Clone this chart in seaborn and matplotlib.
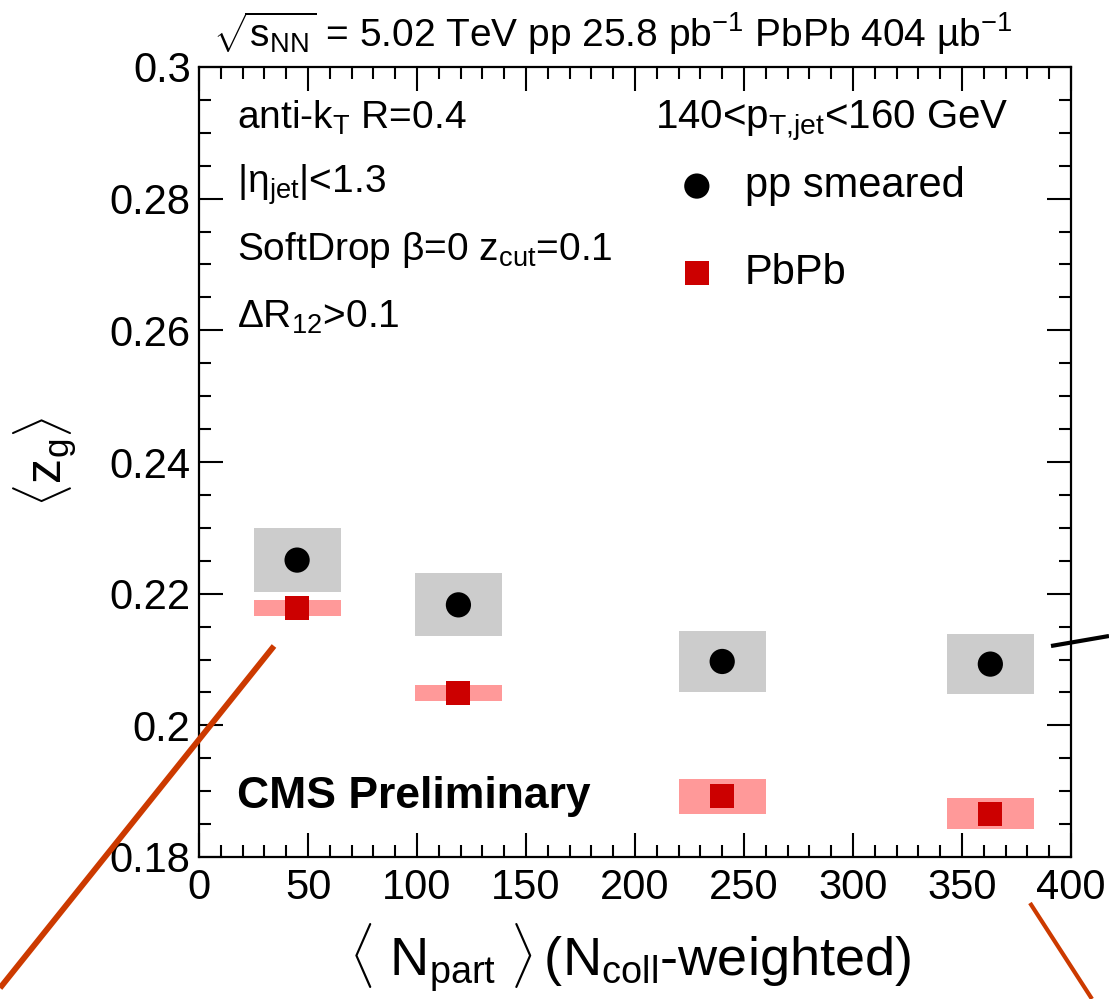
import matplotlib
matplotlib.use("Agg")
import matplotlib.pyplot as plt
from matplotlib.lines import Line2D
from matplotlib.ticker import MultipleLocator
import pandas as pd
import seaborn as sns

# <N_part> per centrality class (N_coll-weighted)
npart = [45, 119, 240, 363]

# <z_g> for smeared pp reference and its systematic uncertainty
pp_zg = [0.2251, 0.2183, 0.2097, 0.2093]
pp_sys = [0.0049, 0.0048, 0.0047, 0.0046]

# <z_g> for PbPb and its systematic uncertainty
pbpb_zg = [0.2178, 0.2049, 0.1892, 0.1866]
pbpb_sys = [0.0012, 0.0012, 0.0026, 0.0024]

x_ticks = [0, 50, 100, 150, 200, 250, 300, 350, 400]
y_ticks = [0.18, 0.2, 0.22, 0.24, 0.26, 0.28, 0.3]
y_tick_labels = ["0.18", "0.2", "0.22", "0.24", "0.26", "0.28", "0.3"]

BOX_HALF_WIDTH = 20  # horizontal half-width of the systematic boxes

sns.set_theme(style="ticks")
plt.rcParams["font.family"] = ["Liberation Sans", "DejaVu Sans"]
plt.rcParams["mathtext.fontset"] = "custom"
plt.rcParams["mathtext.rm"] = "Liberation Sans"
plt.rcParams["mathtext.it"] = "Liberation Sans:italic"
plt.rcParams["mathtext.bf"] = "Liberation Sans:bold"
plt.rcParams["mathtext.sf"] = "Liberation Sans"
for key in ["text.color", "axes.labelcolor", "xtick.color", "ytick.color", "axes.edgecolor"]:
    plt.rcParams[key] = "black"

W, H = 1109, 999
fig = plt.figure(figsize=(W / 100, H / 100), dpi=100)
fig.patch.set_facecolor("white")


def fx(px):
    return px / W


def fy(py):
    return 1 - py / H


ax = fig.add_axes([fx(199), fy(857), fx(1071) - fx(199), fy(67) - fy(857)])
ax.set_facecolor("white")

pp = pd.DataFrame({"npart": npart, "zg": pp_zg, "sys": pp_sys})
pb = pd.DataFrame({"npart": npart, "zg": pbpb_zg, "sys": pbpb_sys})

# systematic uncertainty boxes
ax.bar(pp["npart"], 2 * pp["sys"], bottom=pp["zg"] - pp["sys"],
       width=2 * BOX_HALF_WIDTH, color="#cccccc", edgecolor="none", zorder=1)
ax.bar(pb["npart"], 2 * pb["sys"], bottom=pb["zg"] - pb["sys"],
       width=2 * BOX_HALF_WIDTH, color="#ff9999", edgecolor="none", zorder=1)

# central values
sns.scatterplot(data=pp, x="npart", y="zg", ax=ax, color="black", marker="o",
                s=330, edgecolor="none", label="pp smeared", zorder=3)
sns.scatterplot(data=pb, x="npart", y="zg", ax=ax, color="#cc0000", marker="s",
                s=300, edgecolor="none", label="PbPb", zorder=3)

ax.set_xlim(0, 400)
ax.set_ylim(0.18, 0.3)
ax.set_xticks(x_ticks)
ax.set_yticks(y_ticks)
ax.set_yticklabels(y_tick_labels)
ax.xaxis.set_minor_locator(MultipleLocator(10))
ax.yaxis.set_minor_locator(MultipleLocator(0.005))
ax.tick_params(which="both", direction="in", top=True, right=True,
               color="black", width=1.5)
ax.tick_params(which="major", length=17, labelsize=30, labelcolor="black")
ax.tick_params(which="minor", length=8.5)
ax.tick_params(axis="x", pad=8)
ax.tick_params(axis="y", pad=6)
for sp in ax.spines.values():
    sp.set_visible(True)
    sp.set_linewidth(1.6)
    sp.set_color("black")

ax.set_xlabel(r"$\langle\ \mathrm{N}_{\mathrm{part}}\ \rangle\,(\mathrm{N}_{\mathrm{coll}}$-weighted)",
              fontsize=39, va="baseline")
ax.xaxis.set_label_coords(0.494, -(977 - 857) / 790)
ax.set_ylabel(r"$\langle\mathrm{z}_{\mathrm{g}}\rangle$", fontsize=36, va="center")
ax.yaxis.set_label_coords((45 - 199) / 872, (857 - 462) / 790)

leg = ax.legend(loc="upper left", bbox_to_anchor=(fx(676), fy(166)),
                bbox_transform=fig.transFigure, frameon=False, fontsize=30,
                borderpad=0, borderaxespad=0, handlelength=1.0,
                handletextpad=0.65, labelspacing=1.12)

# header and selection labels
fig.text(fx(213), fy(47),
         r"$\sqrt{\mathrm{s}_{\mathrm{NN}}}$ = 5.02 TeV pp 25.8 pb$^{\mathrm{-1}}$ PbPb 404 µb$^{\mathrm{-1}}$",
         fontsize=28, va="baseline", ha="left")
fig.text(fx(237), fy(129), r"anti-k$_{\mathrm{T}}$ R=0.4", fontsize=28, va="baseline")
fig.text(fx(237), fy(193), r"|η$_{\mathrm{jet}}$|<1.3", fontsize=28, va="baseline")
fig.text(fx(237), fy(260), r"SoftDrop β=0 z$_{\mathrm{cut}}$=0.1", fontsize=28, va="baseline")
fig.text(fx(237), fy(328), r"ΔR$_{\mathrm{12}}$>0.1", fontsize=28, va="baseline")
fig.text(fx(655), fy(128), r"140<p$_{\mathrm{T{,}jet}}$<160 GeV", fontsize=29, va="baseline")
fig.text(fx(237), fy(808), "CMS Preliminary", fontsize=32, fontweight="bold", va="baseline")

# overlay pointer lines
fig.add_artist(Line2D([fx(274), fx(0)], [fy(646), fy(988)], transform=fig.transFigure,
                      color="#cc3a00", lw=4.2, solid_capstyle="butt"))
fig.add_artist(Line2D([fx(1051), fx(1109)], [fy(646), fy(636)], transform=fig.transFigure,
                      color="black", lw=3.0, solid_capstyle="butt"))
fig.add_artist(Line2D([fx(1030), fx(1092)], [fy(903), fy(999)], transform=fig.transFigure,
                      color="#cc3a00", lw=3.0, solid_capstyle="butt"))

fig.savefig("out.png", dpi=100, facecolor="white")
